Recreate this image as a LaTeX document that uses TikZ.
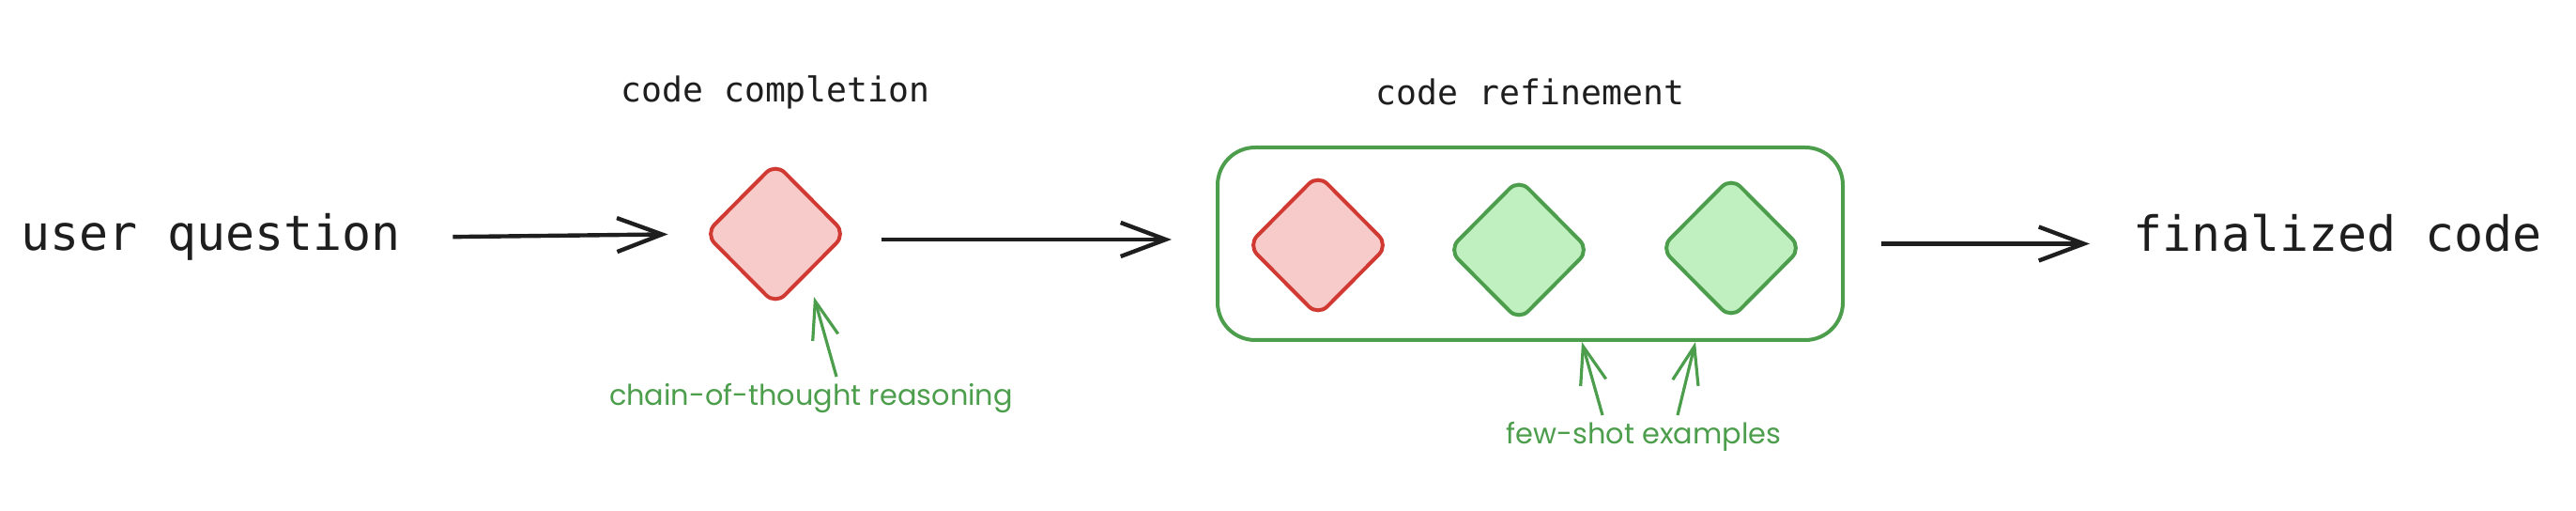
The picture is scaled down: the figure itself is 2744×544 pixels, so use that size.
\documentclass[tikz,border=0pt]{standalone}
\usepackage{fontspec}
\setmonofont{DejaVu Sans Mono}
\newfontfamily\notefont{Poppins}
\usetikzlibrary{shapes.geometric,arrows.meta}
\definecolor{ink}{HTML}{1E1E1E}
\definecolor{redline}{HTML}{D03A32}
\definecolor{redfill}{HTML}{F8CBCB}
\definecolor{greenline}{HTML}{4C9E4C}
\definecolor{greenfill}{HTML}{C0F0C0}

\begin{document}
\begin{tikzpicture}[x=0.25pt,y=-0.25pt,
  big/.style={font=\ttfamily\fontsize{12.9pt}{15pt}\selectfont,text=ink,inner sep=0pt},
  stage/.style={font=\ttfamily\fontsize{9.1pt}{11pt}\selectfont,text=ink,inner sep=0pt},
  note/.style={font=\notefont\fontsize{7.6pt}{9pt}\selectfont,text=greenline,inner sep=0pt},
  gem/.style={diamond,minimum width=37.75pt,minimum height=38pt,inner sep=0pt,rounded corners=3.5pt,line width=1pt},
  redgem/.style={gem,draw=redline,fill=redfill},
  greengem/.style={gem,draw=greenline,fill=greenfill},
  flow/.style={draw=ink,line width=1.1pt,-{Straight Barb[length=12pt,width=9pt]}},
  hint/.style={draw=greenline,line width=0.8pt,-{Straight Barb[length=10pt,width=7pt]}}]
\useasboundingbox (0,0) rectangle (2744,544);
\node[big,anchor=base west] (question) at (22,267) {user question};
\node[redgem] (cc) at (826,249) {};
\node[stage,anchor=base] (cclabel) at (826,109) {code completion};
\node[draw=greenline,line width=1pt,rounded corners=10pt,minimum width=166.5pt,minimum height=51.25pt,inner sep=0pt] (box) at (1630,259.5) {};
\node[redgem] (r1) at (1404,261) {};
\node[greengem] (r2) at (1618,266) {};
\node[greengem] (r3) at (1844,264) {};
\node[stage,anchor=base] (rflabel) at (1630,112) {code refinement};
\node[big,anchor=base west] (final) at (2272,268) {finalized code};
\node[note,anchor=base] (cot) at (864,432) {chain-of-thought reasoning};
\node[note,anchor=base] (fs) at (1751,473) {few-shot examples};
\draw[flow,shorten <=13.75pt,shorten >=9.25pt] (question.east) -- (cc.west);
\draw[flow,shorten <=8.75pt,shorten >=11.75pt] ([yshift=-1.5pt]cc.east) -- ([yshift=-1.5pt]cc.east -| box.west);
\draw[flow,shorten <=9.75pt,shorten >=11.5pt] (box.east) -- (box.east -| final.west);
\draw[hint] ([xshift=6.75pt,yshift=1.75pt]cot.north) -- ([xshift=10.25pt,yshift=2.75pt]cc.south);
\draw[hint] ([xshift=-11pt,yshift=1.75pt]fs.north) -- ([xshift=13.75pt]box.south);
\draw[hint] ([xshift=9pt,yshift=1.75pt]fs.north) -- ([xshift=44pt]box.south);
\end{tikzpicture}
\end{document}
